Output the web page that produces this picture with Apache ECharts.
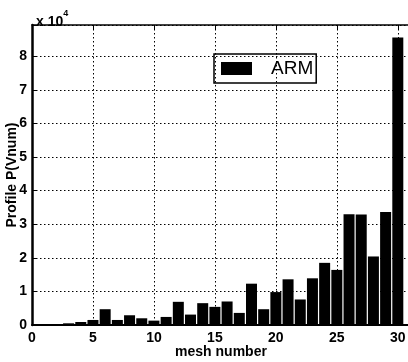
<!DOCTYPE html>
<html>
<head>
<meta charset="utf-8">
<script src="https://cdn.jsdelivr.net/npm/echarts@6/dist/echarts.min.js"></script>
<style>
  html, body { margin: 0; padding: 0; background: #fff; }
  #main { width: 408px; height: 362px; }
</style>
</head>
<body>
<div id="main"></div>
<script>
// mesh index along the x axis
const meshNumbers = [1, 2, 3, 4, 5, 6, 7, 8, 9, 10, 11, 12, 13, 14, 15,
                     16, 17, 18, 19, 20, 21, 22, 23, 24, 25, 26, 27, 28, 29, 30];
// profile P(Vnum) for ARM
const armProfile = [200, 200, 500, 900, 1500, 4700, 1500, 2900, 2000, 1300,
                    2400, 6900, 3100, 6500, 5400, 7000, 3600, 12300, 4700, 9800,
                    13600, 7600, 13900, 18500, 16400, 33000, 32900, 20400, 33600, 85600];
const xTicks = [0, 5, 10, 15, 20, 25, 30];
const yTicks = [0, 1, 2, 3, 4, 5, 6, 7, 8];

const font = 'Liberation Sans';
const chart = echarts.init(document.getElementById('main'), null, { renderer: 'canvas' });

const gridLine = { show: true, lineStyle: { color: '#000', type: [1.5, 2.5], width: 1 } };

chart.setOption({
  animation: false,
  textStyle: { fontFamily: font },
  title: {
    text: '{a|x 10}{b|4}',
    left: 31, top: 4,
    textStyle: {
      rich: {
        a: { fontFamily: font, fontSize: 14, fontWeight: 'bold', color: '#000', padding: [6, 0, 0, 0] },
        b: { fontFamily: font, fontSize: 9, fontWeight: 'bold', color: '#000', verticalAlign: 'top' }
      }
    }
  },
  legend: {
    left: 214, top: 54,
    padding: [5, 3, 5, 7],
    borderColor: '#000', borderWidth: 1.5, borderRadius: 0,
    itemWidth: 31, itemHeight: 13,
    icon: 'rect',
    data: ['ARM'],
    textStyle: { fontFamily: font, fontSize: 19, color: '#000', padding: [0, 0, 0, 14] }
  },
  grid: { left: 32, top: 25, width: 378, height: 300, outerBoundsMode: 'none', containLabel: false },
  xAxis: [{
    type: 'value', min: 0, max: 31, interval: 5,
    name: 'mesh number', nameLocation: 'middle', nameGap: 20, nameMoveOverlap: false,
    nameTextStyle: { fontFamily: font, fontSize: 14, fontWeight: 'bold', color: '#000' },
    axisLine: { lineStyle: { color: '#000', width: 2 } },
    axisTick: { inside: true, length: 4, lineStyle: { color: '#000' } },
    axisLabel: {
      margin: 6, fontFamily: font, fontSize: 14, fontWeight: 'bold', color: '#000',
      formatter: v => (xTicks.includes(v) ? String(v) : '')
    },
    splitLine: gridLine
  }, {
    type: 'value', min: 0, max: 31, interval: 5, position: 'top',
    axisLine: { show: true, onZero: false, lineStyle: { color: '#000', width: 1.5 } },
    axisTick: { show: true, inside: true, length: 4, lineStyle: { color: '#000' } },
    axisLabel: { show: false },
    splitLine: { show: false }
  }],
  yAxis: [{
    type: 'value', min: 0, max: 89300, interval: 10000,
    name: 'Profile P(Vnum)', nameLocation: 'middle', nameGap: 13, nameMoveOverlap: false,
    nameTextStyle: { fontFamily: font, fontSize: 14, fontWeight: 'bold', color: '#000' },
    axisLine: { show: true, lineStyle: { color: '#000', width: 2.5 } },
    axisTick: { show: true, inside: true, length: 4, lineStyle: { color: '#000' } },
    axisLabel: {
      margin: 5, fontFamily: font, fontSize: 14, fontWeight: 'bold', color: '#000',
      formatter: v => (yTicks.includes(v / 10000) ? String(v / 10000) : '')
    },
    splitLine: gridLine
  }],
  series: [{
    name: 'ARM',
    type: 'bar',
    barWidth: 11,
    itemStyle: { color: '#000' },
    data: meshNumbers.map((m, i) => [m, armProfile[i]])
  }]
});
</script>
</body>
</html>
